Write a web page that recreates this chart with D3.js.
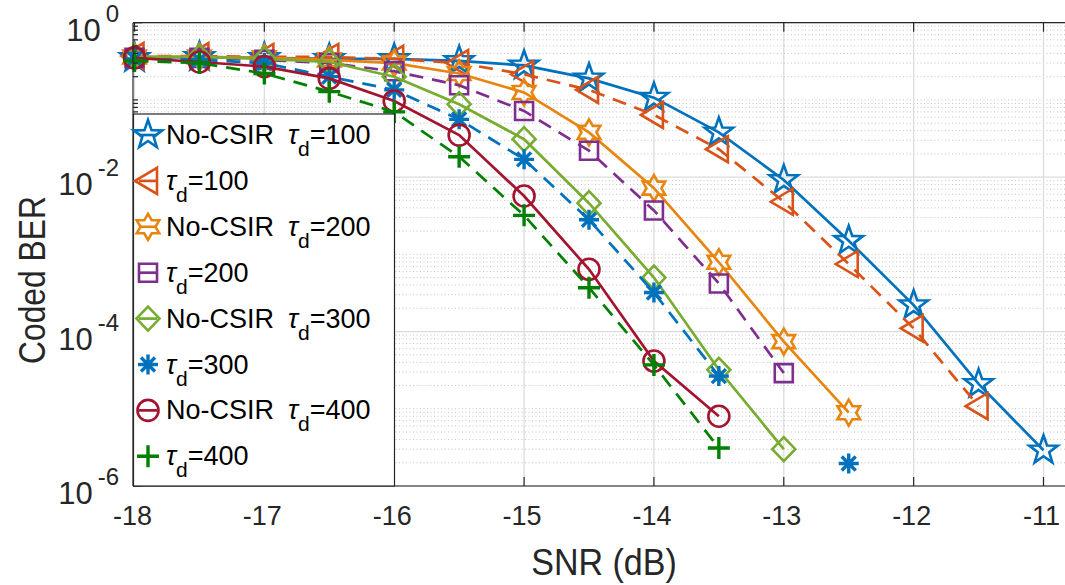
<!DOCTYPE html>
<html>
<head>
<meta charset="utf-8">
<script src="https://cdn.jsdelivr.net/npm/d3@7"></script>
<style>
  body { margin: 0; background: #fff; }
  svg { display: block; font-family: "Liberation Sans", Arial, Helvetica, sans-serif; }
</style>
</head>
<body>
<div id="chart"></div>
<script>
document.addEventListener("DOMContentLoaded", function() {
    // SNR grid (dB)
    var snr = [-18, -17.5, -17, -16.5, -16, -15.5, -15, -14.5, -14, -13.5, -13, -12.5, -12, -11.5, -11];

    // coded BER per curve (null = not plotted)
    var berNoCsir100 = [0.35, 0.36, 0.35, 0.34, 0.34, 0.32, 0.28, 0.19, 0.107, 0.038, 0.0092, 0.0015, 2.2e-4, 2.1e-5, 2.9e-6];
    var berCsir100   = [0.37, 0.37, 0.36, 0.36, 0.34, 0.30, 0.215, 0.135, 0.064, 0.023, 0.0048, 7.5e-4, 1.1e-4, 1.08e-5, null];
    var berNoCsir200 = [0.36, 0.36, 0.35, 0.33, 0.30, 0.22, 0.125, 0.038, 0.0072, 7.9e-4, 7.4e-5, 8.9e-6, null, null, null];
    var berCsir200   = [0.35, 0.35, 0.33, 0.30, 0.235, 0.155, 0.072, 0.022, 0.0037, 4.2e-4, 2.9e-5, null, null, null, null];
    var berNoCsir300 = [0.36, 0.36, 0.34, 0.31, 0.20, 0.088, 0.031, 0.0046, 5.0e-4, 3.2e-5, 3.0e-6, null, null, null, null];
    var berCsir300   = [0.34, 0.33, 0.30, 0.20, 0.135, 0.056, 0.017, 0.0028, 3.2e-4, 2.65e-5, null, 1.96e-6, null, null, null];
    var berNoCsir400 = [0.35, 0.31, 0.27, 0.19, 0.097, 0.035, 0.0057, 6.4e-4, 4.15e-5, 8.0e-6, null, null, null, null, null];
    var berCsir400   = [0.32, 0.30, 0.22, 0.128, 0.070, 0.0184, 0.0032, 3.7e-4, 3.7e-5, 3.1e-6, null, null, null, null, null];

    var legendPrefix = ["No-CSIR", "", "No-CSIR", "", "No-CSIR", "", "No-CSIR", ""];
    var legendTau = ["100", "100", "200", "200", "300", "300", "400", "400"];

    var xTicks = [-18, -17, -16, -15, -14, -13, -12, -11];
    var yTickExp = [0, -2, -4, -6];

    var series = [
        { values: berNoCsir100, color: "#0072BD", dashed: false, marker: "pentagram" },
        { values: berCsir100,   color: "#D95319", dashed: true,  marker: "triangleLeft" },
        { values: berNoCsir200, color: "#E8850E", dashed: false, marker: "hexagram" },
        { values: berCsir200,   color: "#7E2F8E", dashed: true,  marker: "square" },
        { values: berNoCsir300, color: "#77AC30", dashed: false, marker: "diamond" },
        { values: berCsir300,   color: "#0072BD", dashed: true,  marker: "asterisk" },
        { values: berNoCsir400, color: "#A2142F", dashed: false, marker: "circle" },
        { values: berCsir400,   color: "#008000", dashed: true,  marker: "plus" }
    ];

    var svgWidth = 1065, svgHeight = 585;
    var plotLeft = 133, plotTop = 22.7, plotBottom = 486, plotRight = 1070;
    var axisColor = "#262626";
    var lineW = 2.7;

    var x = d3.scaleLinear().domain([-18, -11]).range([134.5, 1043.5]);
    var y = d3.scaleLog().domain([1e-6, 1]).range([plotBottom, plotTop]);

    var svg = d3.select("#chart").append("svg")
        .attr("width", svgWidth)
        .attr("height", svgHeight);

    // grid: minor dotted horizontals, major solid
    var minorVals = [];
    for (var e = -6; e < 0; e++) {
        for (var m = 1; m <= 9; m++) {
            if (m === 1 && e % 2 === 0) continue;
            minorVals.push(m * Math.pow(10, e));
        }
    }
    var grid = svg.append("g");
    grid.selectAll(".minor").data(minorVals).enter().append("line")
        .attr("x1", plotLeft).attr("x2", plotRight)
        .attr("y1", function(d) { return y(d); })
        .attr("y2", function(d) { return y(d); })
        .style("stroke", "#c4c4c4")
        .style("stroke-width", 1)
        .style("stroke-dasharray", "1,2.5");
    grid.selectAll(".majorY").data(yTickExp).enter().append("line")
        .attr("x1", plotLeft).attr("x2", plotRight)
        .attr("y1", function(d) { return y(Math.pow(10, d)); })
        .attr("y2", function(d) { return y(Math.pow(10, d)); })
        .style("stroke", "#dcdcdc")
        .style("stroke-width", 1.3);
    grid.selectAll(".majorX").data(xTicks).enter().append("line")
        .attr("x1", function(d) { return x(d); })
        .attr("x2", function(d) { return x(d); })
        .attr("y1", plotTop).attr("y2", plotBottom)
        .style("stroke", "#dcdcdc")
        .style("stroke-width", 1.3);

    // marker shapes (outlines)
    function starPath(n, R, r) {
        var pts = [];
        for (var i = 0; i < 2 * n; i++) {
            var a = -Math.PI / 2 + i * Math.PI / n;
            var rad = i % 2 === 0 ? R : r;
            pts.push([rad * Math.cos(a), rad * Math.sin(a)]);
        }
        return "M" + pts.map(function(p) { return p[0].toFixed(2) + "," + p[1].toFixed(2); }).join("L") + "Z";
    }
    var markerPaths = {
        pentagram: starPath(5, 15, 6),
        hexagram: starPath(6, 13, 7.5),
        triangleLeft: "M-13,0L9,-13L9,13Z",
        square: "M-9,-9L9,-9L9,9L-9,9Z",
        diamond: "M0,-12L11.5,0L0,12L-11.5,0Z",
        circle: "M10.5,0A10.5,10.5 0 1,1 -10.5,0A10.5,10.5 0 1,1 10.5,0Z",
        plus: "M-11,0L11,0M0,-11L0,11",
        asterisk: "M-10,0L10,0M0,-10L0,10M-7,-7L7,7M-7,7L7,-7"
    };

    function drawMarker(g, s, cx, cy) {
        g.append("path")
            .attr("d", markerPaths[s.marker])
            .attr("transform", "translate(" + cx + "," + cy + ")")
            .style("fill", "none")
            .style("stroke", s.color)
            .style("stroke-width", s.marker === "plus" || s.marker === "asterisk" ? 3.4 : 2.6)
            .style("stroke-linejoin", "miter");
    }

    var line = d3.line()
        .defined(function(d) { return d[1] !== null; })
        .x(function(d) { return x(d[0]); })
        .y(function(d) { return y(d[1]); });

    var plot = svg.append("g");
    series.forEach(function(s) {
        var pts = snr.map(function(v, i) { return [v, s.values[i]]; });
        plot.append("path")
            .attr("d", line(pts))
            .style("fill", "none")
            .style("stroke", s.color)
            .style("stroke-width", lineW)
            .style("stroke-dasharray", s.dashed ? "14,9" : null);
        pts.forEach(function(p) {
            if (p[1] === null) return;
            drawMarker(plot, s, x(p[0]), y(p[1]));
        });
    });

    // axes box + ticks
    var axes = svg.append("g");
    axes.append("line").attr("x1", plotLeft).attr("x2", plotRight).attr("y1", plotBottom).attr("y2", plotBottom);
    axes.append("line").attr("x1", plotLeft).attr("x2", plotRight).attr("y1", plotTop).attr("y2", plotTop);
    axes.append("line").attr("x1", plotLeft).attr("x2", plotLeft).attr("y1", plotTop).attr("y2", plotBottom);
    xTicks.forEach(function(t) {
        axes.append("line").attr("x1", x(t)).attr("x2", x(t)).attr("y1", plotBottom).attr("y2", plotBottom - 9);
        axes.append("line").attr("x1", x(t)).attr("x2", x(t)).attr("y1", plotTop).attr("y2", plotTop + 9);
    });
    minorVals.forEach(function(v) {
        axes.append("line").attr("x1", plotLeft).attr("x2", plotLeft + 5).attr("y1", y(v)).attr("y2", y(v));
    });
    yTickExp.forEach(function(t) {
        axes.append("line").attr("x1", plotLeft).attr("x2", plotLeft + 9)
            .attr("y1", y(Math.pow(10, t))).attr("y2", y(Math.pow(10, t)));
    });
    axes.selectAll("line").style("stroke", axisColor).style("stroke-width", 1.2);

    // tick labels
    xTicks.forEach(function(t) {
        svg.append("text")
            .attr("x", x(t) - 2)
            .attr("y", 525)
            .attr("text-anchor", "middle")
            .style("font-size", "27px")
            .style("fill", axisColor)
            .text(t < 0 ? "-" + Math.abs(t) : t);
    });
    yTickExp.forEach(function(t) {
        var ty = y(Math.pow(10, t));
        var lbl = svg.append("text")
            .attr("x", 119)
            .attr("y", ty + 18)
            .attr("text-anchor", "end")
            .style("fill", axisColor);
        lbl.append("tspan").style("font-size", "31px").text("10");
        lbl.append("tspan").attr("dx", 5).attr("dy", -19).style("font-size", "24px")
            .text(t < 0 ? "-" + Math.abs(t) : t);
    });

    // axis titles
    svg.append("text")
        .attr("transform", "translate(604,575) scale(0.92,1)")
        .attr("text-anchor", "middle")
        .style("font-size", "37px")
        .style("fill", axisColor)
        .text("SNR (dB)");
    svg.append("text")
        .attr("transform", "translate(45,280) rotate(-90) scale(0.86,1)")
        .attr("text-anchor", "middle")
        .style("font-size", "37px")
        .style("fill", axisColor)
        .text("Coded BER");

    // legend
    var legend = svg.append("g");
    legend.append("rect")
        .attr("x", 133.5).attr("y", 114)
        .attr("width", 261).attr("height", 372)
        .style("fill", "#fff")
        .style("stroke", axisColor)
        .style("stroke-width", 1.2);
    series.forEach(function(s, i) {
        var cy = 135 + i * 45.9;
        legend.append("line")
            .attr("x1", 139).attr("x2", 157)
            .attr("y1", cy).attr("y2", cy)
            .style("stroke", s.color)
            .style("stroke-width", lineW);
        drawMarker(legend, s, 148, cy);
        var txt = legend.append("text")
            .attr("x", 166)
            .attr("y", cy + 9)
            .style("font-size", "27px")
            .style("fill", "#000");
        var tauX = 166;
        if (legendPrefix[i]) {
            txt.append("tspan").text(legendPrefix[i]);
            tauX = 288;
        }
        txt.append("tspan").attr("x", tauX).style("font-style", "italic").text("\u03C4");
        txt.append("tspan").attr("dy", 12).style("font-size", "21px").text("d");
        txt.append("tspan").attr("dy", -12).text("=" + legendTau[i]);
    });
});
</script>
</body>
</html>
